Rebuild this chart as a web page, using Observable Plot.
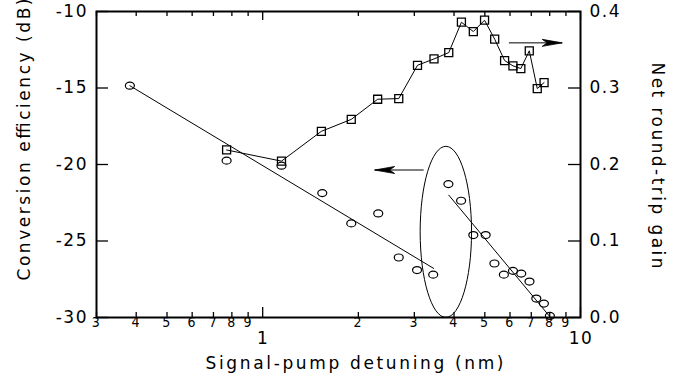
<!DOCTYPE html>
<html><head><meta charset="utf-8">
<script src="https://cdn.jsdelivr.net/npm/d3@7"></script>
<script src="https://cdn.jsdelivr.net/npm/@observablehq/plot@0.6"></script>
<style>
body{margin:0;background:#fff}
#chart svg text{letter-spacing:1.5px}
</style>
</head><body><div id="chart"></div>
<script>
// Conversion efficiency (left axis, dB) vs signal-pump detuning (nm)
const effDetuning = [0.382, 0.77, 1.146, 1.54, 1.90, 2.31, 2.68, 3.06, 3.44, 3.84, 4.21, 4.60, 5.03, 5.36, 5.74, 6.13, 6.51, 6.91, 7.26, 7.67, 8.01];
const efficiency  = [-14.85, -19.75, -20.08, -21.87, -23.85, -23.2, -26.08, -26.9, -27.2, -21.28, -22.37, -24.61, -24.61, -26.47, -27.2, -26.95, -27.13, -27.65, -28.76, -29.09, -29.9];
// Net round-trip gain (right axis)
const gainDetuning = [0.77, 1.146, 1.53, 1.90, 2.30, 2.68, 3.07, 3.46, 3.85, 4.22, 4.60, 4.99, 5.37, 5.77, 6.13, 6.49, 6.90, 7.31, 7.68];
const gain = [0.219, 0.2044, 0.2434, 0.259, 0.2853, 0.2862, 0.3297, 0.338, 0.3463, 0.386, 0.3738, 0.3886, 0.3638, 0.3359, 0.329, 0.3254, 0.3486, 0.2993, 0.3071];
// Straight-line fits of efficiency
const fitLowDetuning = [0.382, 3.45];
const fitLowEff = [-14.85, -26.79];
const fitHighDetuning = [3.85, 8.05];
const fitHighEff = [-22.0, -30.0];
// annotations
const ellipseCenter = [3.77, -24.4];
const leftArrow = [3.21, 2.25, -20.36];   // from, to, efficiency level
const rightArrow = [5.95, 8.76, -12.05];
// ticks
const minorTicks = [0.3, 0.4, 0.5, 0.6, 0.7, 0.8, 0.9, 2, 3, 4, 5, 6, 7, 8, 9];
const minorLabels = ["3", "4", "5", "6", "7", "8", "9", "2", "3", "4", "5", "6", "7", "8", "9"];
const majorTicks = [1, 10];
const majorLabels = ["1", "10"];
const effTicks = [-30, -25, -20, -15, -10];
const effTickLabels = ["-30", "-25", "-20", "-15", "-10"];
const gainTicks = [0, 0.1, 0.2, 0.3, 0.4];
const gainTickLabels = ["0.0", "0.1", "0.2", "0.3", "0.4"];
const xTitle = "Signal-pump detuning (nm)";
const yTitle = "Conversion efficiency (dB)";
const y2Title = "Net round-trip gain";

const gainToEff = g => -30 + g * 50; // 0..0.4 -> -30..-10

const effData = effDetuning.map((x, i) => ({x, y: efficiency[i]}));
const gainData = gainDetuning.map((x, i) => ({x, y: gainToEff(gain[i])}));
const fitLow = fitLowDetuning.map((x, i) => ({x, y: fitLowEff[i]}));
const fitHigh = fitHighDetuning.map((x, i) => ({x, y: fitHighEff[i]}));
const minorData = minorTicks.map((x, i) => ({x, label: minorLabels[i]}));
const majorData = majorTicks.map((x, i) => ({x, label: majorLabels[i]}));
const effTickData = effTicks.map((y, i) => ({y, label: effTickLabels[i]}));
const gainTickData = gainTicks.map((g, i) => ({y: gainToEff(g), label: gainTickLabels[i]}));

function ellipse(rx, ry) {
  const k = 0.5523;
  return {draw(c) {
    c.moveTo(rx, 0);
    c.bezierCurveTo(rx, ry * k, rx * k, ry, 0, ry);
    c.bezierCurveTo(-rx * k, ry, -rx, ry * k, -rx, 0);
    c.bezierCurveTo(-rx, -ry * k, -rx * k, -ry, 0, -ry);
    c.bezierCurveTo(rx * k, -ry, rx, -ry * k, rx, 0);
    c.closePath();
  }};
}
const squareSym = {draw(c) { c.rect(-4, -4, 8, 8); }};
function head(dir) {
  return {draw(c) {
    c.moveTo(0, 0); c.lineTo(-20 * dir, -3.5); c.lineTo(-15 * dir, 0); c.lineTo(-20 * dir, 3.5); c.closePath();
  }};
}

const W = 698, H = 387, mL = 96, mR = 118, mT = 11, mB = 70;
const pw = W - mL - mR, ph = H - mT - mB;

const chart = Plot.plot({
  width: W, height: H,
  marginLeft: mL, marginRight: mR, marginTop: mT, marginBottom: mB,
  x: {type: "log", domain: [0.3, 10], axis: null},
  y: {domain: [-30, -10], axis: null},
  style: {fontFamily: "DejaVu Sans, sans-serif", fontSize: "17px", background: "white", color: "black"},
  marks: [
    // ticks (inside)
    Plot.tickX(minorTicks, {x: d => d, insetTop: ph - 5, strokeWidth: 1.3}),
    Plot.tickX(minorTicks, {x: d => d, insetBottom: ph - 5, strokeWidth: 1.3}),
    Plot.tickX(majorTicks, {x: d => d, insetTop: ph - 10, strokeWidth: 1.3}),
    Plot.tickX(majorTicks, {x: d => d, insetBottom: ph - 9, strokeWidth: 1.3}),
    Plot.tickY(effTicks, {y: d => d, insetRight: pw - 12, strokeWidth: 1.3}),
    Plot.tickY(effTicks, {y: d => d, insetLeft: pw - 12, strokeWidth: 1.3}),
    // tick labels
    Plot.text(minorData, {x: "x", text: "label", frameAnchor: "bottom", dy: 9, fontSize: 14,
      fontFamily: "DejaVu Sans Condensed, DejaVu Sans, sans-serif", style: "letter-spacing:0"}),
    Plot.text(majorData, {x: "x", text: "label", frameAnchor: "bottom", dy: 26.5, dx: 0.5, fontSize: 17}),
    Plot.text(effTickData, {y: "y", text: "label", frameAnchor: "left", textAnchor: "end", dx: -8.5, fontSize: 17}),
    Plot.text(gainTickData, {y: "y", text: "label", frameAnchor: "right", textAnchor: "start", dx: 9, fontSize: 17}),
    // titles
    Plot.text([xTitle], {frameAnchor: "bottom", text: d => d, dx: 16, dy: 51, fontSize: 17, textAnchor: "middle"}),
    Plot.text([yTitle], {frameAnchor: "left", text: d => d, dx: -72, dy: -25, rotate: -90, fontSize: 17, textAnchor: "middle"}),
    Plot.text([y2Title], {frameAnchor: "right", text: d => d, dx: 77, dy: 1, rotate: 90, fontSize: 17, textAnchor: "middle"}),
    // fit lines
    Plot.line(fitLow, {x: "x", y: "y", stroke: "black", strokeWidth: 1}),
    Plot.line(fitHigh, {x: "x", y: "y", stroke: "black", strokeWidth: 1}),
    // gain series
    Plot.line(gainData, {x: "x", y: "y", stroke: "black", strokeWidth: 1}),
    Plot.dot(gainData, {x: "x", y: "y", symbol: squareSym, stroke: "black", strokeWidth: 1.3, fill: "none"}),
    // efficiency points
    Plot.dot(effData, {x: "x", y: "y", symbol: ellipse(4.5, 3.5), stroke: "black", strokeWidth: 1.2, fill: "none"}),
    // ellipse annotation
    Plot.dot([ellipseCenter], {x: d => d[0], y: d => d[1], symbol: ellipse(25.7, 85.5), stroke: "black", strokeWidth: 1, fill: "none"}),
    // arrows
    Plot.link([leftArrow, rightArrow], {x1: d => d[0], x2: d => d[1], y1: d => d[2], y2: d => d[2], stroke: "black", strokeWidth: 1}),
    Plot.dot([leftArrow], {x: d => d[1], y: d => d[2], symbol: head(-1), fill: "black", stroke: "black", strokeWidth: 0.8}),
    Plot.dot([rightArrow], {x: d => d[1], y: d => d[2], symbol: head(1), fill: "black", stroke: "black", strokeWidth: 0.8}),
    Plot.frame({stroke: "black", strokeWidth: 2})
  ]
});
// stretch titles to the reference's spacing
const titleLengths = new Map([[xTitle, 298], [yTitle, 282], [y2Title, 206]]);
chart.querySelectorAll("text").forEach(t => {
  const L = titleLengths.get(t.textContent);
  if (L) { t.style.letterSpacing = "0px"; t.setAttribute("textLength", L); t.setAttribute("lengthAdjust", "spacing"); }
  if (minorLabels.includes(t.textContent) && t.closest("g") && t.getAttribute("font-size") === "14") t.style.letterSpacing = "0px";
});
document.getElementById("chart").append(chart);
</script>
</body></html>
